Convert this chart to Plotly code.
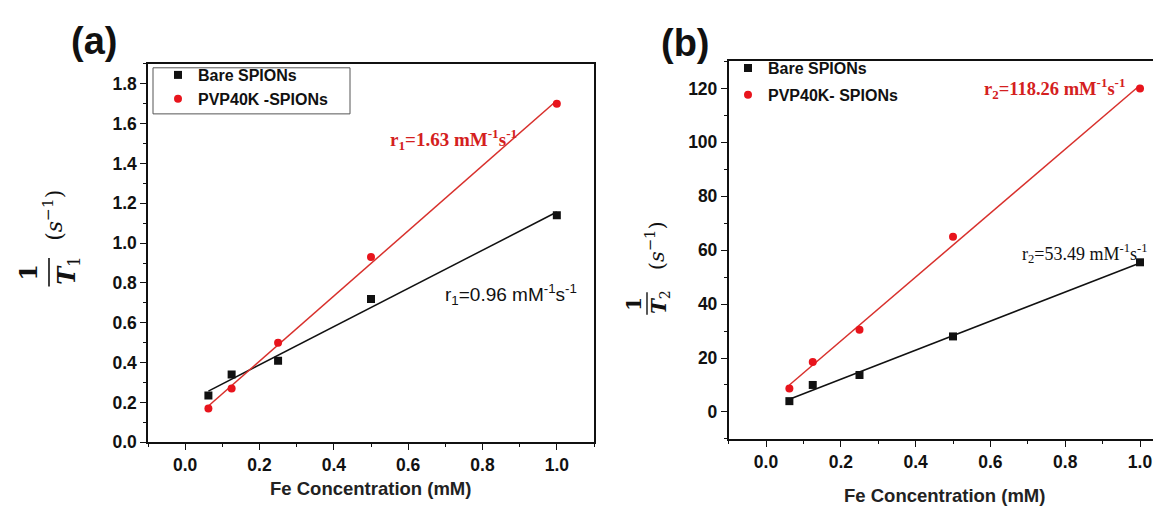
import numpy as np
import plotly.graph_objects as go

W, H = 1161, 510

# ---------------- data ----------------
fe_conc = [0.0625, 0.125, 0.25, 0.5, 1.0]
t1_bare = [0.235, 0.34, 0.41, 0.72, 1.14]
t1_pvp = [0.17, 0.27, 0.50, 0.93, 1.70]
t2_bare = [4.0, 10.0, 13.7, 28.0, 55.5]
t2_pvp = [8.7, 18.5, 30.5, 65.0, 120.0]
x_ticks = [0.0, 0.2, 0.4, 0.6, 0.8, 1.0]
label_bare = "Bare SPIONs"
label_pvp_a = "PVP40K -SPIONs"
label_pvp_b = "PVP40K- SPIONs"
r1_bare_txt = "r<sub>1</sub>=0.96 mM<sup>-1</sup>s<sup>-1</sup>"
r1_pvp_txt = "<b>r<sub>1</sub>=1.63 mM<sup>-1</sup>s<sup>-1</sup></b>"
r2_bare_txt = "r<sub>2</sub>=53.49 mM<sup>-1</sup>s<sup>-1</sup>"
r2_pvp_txt = "<b>r<sub>2</sub>=118.26 mM<sup>-1</sup>s<sup>-1</sup></b>"

BLACK = "#111111"
RED = "#e8141c"
RED_LINE = "#d8302c"
RED_TXT = "#d42020"


def px(x):
    return x / W


def py(y):
    return 1 - y / H


def fit_line(x, y):
    k, b = np.polyfit(x, y, 1)
    xs = np.array([min(x), max(x)])
    return xs, k * xs + b


fig = go.Figure()

# panel (a)
for ys, col, lcol, sym, name in [
    (t1_bare, BLACK, BLACK, "square", label_bare),
    (t1_pvp, RED, RED_LINE, "circle", label_pvp_a),
]:
    fx, fy = fit_line(fe_conc, ys)
    fig.add_trace(go.Scatter(x=fx, y=fy, mode="lines", line=dict(color=lcol, width=1.5),
                             showlegend=False, xaxis="x", yaxis="y", hoverinfo="skip"))
    fig.add_trace(go.Scatter(x=fe_conc, y=ys, mode="markers", name=name,
                             marker=dict(color=col, size=8, symbol=sym),
                             xaxis="x", yaxis="y", legend="legend"))

# panel (b)
for ys, col, lcol, sym, name in [
    (t2_bare, BLACK, BLACK, "square", label_bare),
    (t2_pvp, RED, RED_LINE, "circle", label_pvp_b),
]:
    fx, fy = fit_line(fe_conc, ys)
    fig.add_trace(go.Scatter(x=fx, y=fy, mode="lines", line=dict(color=lcol, width=1.5),
                             showlegend=False, xaxis="x2", yaxis="y2", hoverinfo="skip"))
    fig.add_trace(go.Scatter(x=fe_conc, y=ys, mode="markers", name=name,
                             marker=dict(color=col, size=8, symbol=sym),
                             xaxis="x2", yaxis="y2", legend="legend2", legendgroup=name))

tickfont = dict(family="Liberation Sans, Arial", size=17.5, color="#111", weight="bold")

axis_common = dict(
    showline=True, linecolor="#111", linewidth=1.5, ticks="outside", ticklen=6,
    tickwidth=1.3, tickcolor="#111", showgrid=False, zeroline=False, tickfont=tickfont,
)


def minor(dt):
    return dict(dtick=dt, tick0=0, ticks="outside", ticklen=3, tickwidth=1.2, tickcolor="#111")


fig.update_layout(
    width=W, height=H, autosize=False,
    margin=dict(l=0, r=0, t=0, b=0),
    paper_bgcolor="white", plot_bgcolor="white",
    xaxis=dict(domain=[px(140), px(586)], range=[-0.1, 1.1], tickmode="array",
               tickvals=x_ticks, tickformat=".1f", mirror=True, anchor="y",
               minor=minor(0.1), **axis_common),
    yaxis=dict(domain=[py(443), py(57)], range=[0, 1.9], dtick=0.2, tick0=0,
               tickformat=".1f", mirror=True, anchor="x", minor=minor(0.1), **axis_common),
    xaxis2=dict(domain=[px(720.6), 1.0], range=[-0.1, 1.0775], tickmode="array",
                tickvals=x_ticks, tickformat=".1f", mirror=True, anchor="y2",
                minor=minor(0.1), **axis_common),
    yaxis2=dict(domain=[py(439.5), py(54.5)], range=[-10, 130], dtick=20, tick0=0,
                mirror=False, anchor="x2", minor=minor(10), **axis_common),
    legend=dict(x=px(150), y=py(51), xanchor="left", yanchor="top",
                bgcolor="rgba(0,0,0,0)", borderwidth=0,
                font=dict(family="Liberation Sans, Arial", size=16, color="#111", weight="bold")),
    legend2=dict(x=px(720), y=py(44), xanchor="left", yanchor="top",
                 bgcolor="rgba(0,0,0,0)", borderwidth=0, traceorder="grouped",
                 tracegroupgap=3,
                 font=dict(family="Liberation Sans, Arial", size=16, color="#111", weight="bold")),
    showlegend=True,
)

# legend box for panel (a)
fig.add_shape(type="rect", xref="paper", yref="paper", x0=px(145), x1=px(342),
              y0=py(108), y1=py(61), line=dict(color="#555", width=1),
              fillcolor="white", layer="above")

ann = []
serif = "Liberation Serif, Times New Roman"
sans = "Liberation Sans, Arial"
mathfont = "DejaVu Serif"
# panel labels
ann.append(dict(text="<b>(a)</b>", x=px(86), y=py(34), font=dict(family=sans, size=38, color="#111")))
ann.append(dict(text="<b>(b)</b>", x=px(677), y=py(36), font=dict(family=sans, size=38, color="#111")))
# x titles
ann.append(dict(text="<b>Fe Concentration (mM)</b>", x=px(362), y=py(490),
                font=dict(family=sans, size=18.5, color="#222")))
ann.append(dict(text="<b>Fe Concentration (mM)</b>", x=px(936), y=py(497),
                font=dict(family=sans, size=18.5, color="#222")))
# y titles panel (a)
ann.append(dict(text="<b>1</b>", x=px(21), y=py(270), textangle=-90,
                font=dict(family=mathfont, size=24, color="#111")))
ann.append(dict(text="<b><i>T</i></b><sub>1</sub>", x=px(60), y=py(268), textangle=-90,
                font=dict(family=mathfont, size=24, color="#111")))
ann.append(dict(text="(<i>s</i><sup>−1</sup>)", x=px(45), y=py(212), textangle=-90,
                font=dict(family=mathfont, size=22, color="#111")))
# y titles panel (b)
ann.append(dict(text="<b>1</b>", x=px(626), y=py(302), textangle=-90,
                font=dict(family=mathfont, size=20, color="#111")))
ann.append(dict(text="<b><i>T</i></b><sub>2</sub>", x=px(652), y=py(300), textangle=-90,
                font=dict(family=mathfont, size=20, color="#111")))
ann.append(dict(text="(<i>s</i><sup>−1</sup>)", x=px(647), y=py(243), textangle=-90,
                font=dict(family=mathfont, size=21, color="#111")))
# slope labels
ann.append(dict(text=r1_pvp_txt, x=px(445), y=py(134), font=dict(family=serif, size=19, color=RED_TXT)))
ann.append(dict(text=r1_bare_txt, x=px(503), y=py(292), font=dict(family=sans, size=19, color="#111")))
ann.append(dict(text=r2_pvp_txt, x=px(1119), y=py(82), xanchor="right",
                font=dict(family=serif, size=18.5, color=RED_TXT)))
ann.append(dict(text=r2_bare_txt, x=px(1141), y=py(250), xanchor="right",
                font=dict(family=serif, size=18, color="#111")))

for a in ann:
    a.setdefault("xanchor", "center")
    a.update(xref="paper", yref="paper", showarrow=False, yanchor="middle")
fig.update_layout(annotations=ann)

# fraction bars
fig.add_shape(type="line", xref="paper", yref="paper", x0=px(41), x1=px(41), y0=py(255), y1=py(284),
              line=dict(color="#111", width=1.6))
fig.add_shape(type="line", xref="paper", yref="paper", x0=px(639), x1=px(639), y0=py(290), y1=py(313),
              line=dict(color="#111", width=1.4))

fig.write_html("out.html")
